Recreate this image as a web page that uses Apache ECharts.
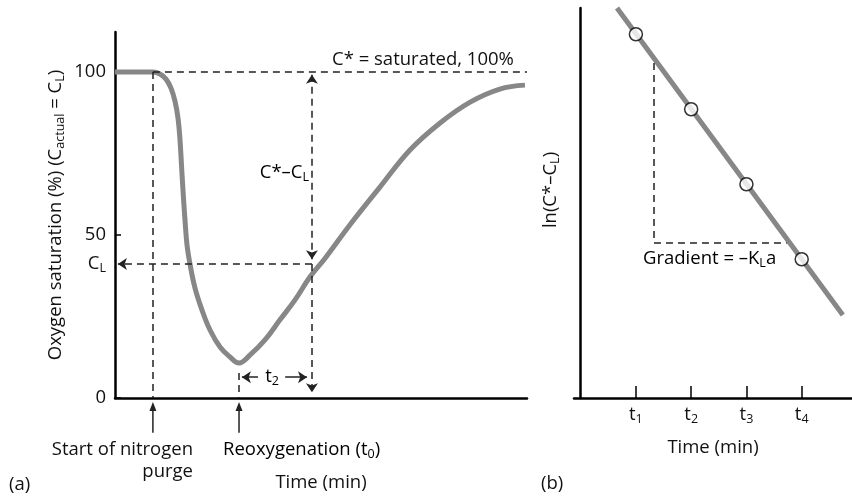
<!DOCTYPE html>
<html>
<head>
<meta charset="utf-8">
<script src="https://cdn.jsdelivr.net/npm/echarts@6/dist/echarts.min.js"></script>
<style>
html,body{margin:0;padding:0;background:#fff;}
#c{width:852px;height:496px;}
</style>
</head>
<body>
<div id="c"></div>
<script>
// ---------- Panel (a) data ----------
const satTime  = [0, 9.22, 10.92, 12.38, 13.59, 14.56, 15.29, 15.78, 16.14, 16.50, 16.99, 17.48, 18.20, 19.42, 21.12, 23.06, 25.49, 27.91, 30.10, 32.8, 36.4, 40.0, 43.7, 47.3, 51.0, 57.0, 64.3, 71.6, 78.9, 86.2, 93.4, 99.5];
const satValue = [100, 100, 99.39, 97.85, 95.09, 91.10, 85.89, 79.14, 71.47, 63.80, 54.60, 46.93, 41.10, 33.74, 26.99, 20.86, 15.64, 12.58, 10.74, 13.2, 17.8, 23.9, 30.1, 37.1, 42.9, 53.1, 64.7, 76.1, 84.4, 90.8, 94.8, 96.0];
const purgeTime = 9.2;
const reoxTime = 30.1;
const measureTime = 47.8;
const saturatedLevel = 100;
const clLevel = 41.1;
const yTickValues = [0, 50, 100];
const yLabelValues = [0, clLevel, 50, 100];
const yLabelTexts = ['{v|0}', '{v|C}{s|L}', '{v|50}', '{v|100}'];

// ---------- Panel (b) data ----------
const bTimes = [1, 2, 3, 4];
const bLnValues = [4.85, 3.85, 2.85, 1.85];
const bTickLabels = ['{v|t}{s|1}', '{v|t}{s|2}', '{v|t}{s|3}', '{v|t}{s|4}'];
const fitX = [0.658, 4.744];
const fitY = [5.2, 1.107];
const triX = [1.327, 3.73];
const triY = [4.467, 2.067];

const FONT = '"Open Sans", "Noto Sans", sans-serif';
const FS = 18.5;
const SFS = 12.5;
const TXT = '#111';
const GRAY = '#878787';
const richBase = {
  v: {fontSize: FS, fontFamily: FONT, color: TXT, lineHeight: 22},
  s: {fontSize: SFS, fontFamily: FONT, color: TXT, lineHeight: 10, verticalAlign: 'bottom'}
};

const dashStyle = {type: [7, 5], color: '#222', width: 1.5};
const solidStyle = {type: 'solid', color: '#222', width: 1.5};
function seg(p0, p1, arrowStart, arrowEnd, style) {
  return [
    {coord: p0, symbol: arrowStart ? 'arrow' : 'none', symbolSize: 9, lineStyle: style || dashStyle},
    {coord: p1, symbol: arrowEnd ? 'arrow' : 'none', symbolSize: 9}
  ];
}

// arrows below the time axis (point up to the axis)
const eventArrows = [[purgeTime, -10.7, -1.2], [reoxTime, -10.7, -1.2]];

const chart = echarts.init(document.getElementById('c'), null, {renderer: 'canvas'});
const option = {
  backgroundColor: '#fff',
  animation: false,
  textStyle: {fontFamily: FONT},
  grid: [
    {left: 115, top: 32, width: 412, height: 366, outerBoundsMode: 'none', containLabel: false},
    {left: 574, top: 8, width: 278, height: 390, outerBoundsMode: 'none', containLabel: false}
  ],
  xAxis: [
    {
      type: 'value', gridIndex: 0, min: 0, max: 100,
      axisLine: {lineStyle: {color: '#000', width: 2.5}},
      axisTick: {show: false}, axisLabel: {show: false}, splitLine: {show: false},
      name: 'Time (min)', nameLocation: 'middle', nameGap: 75,
      nameTextStyle: {fontSize: FS, fontFamily: FONT, color: TXT}
    },
    {
      type: 'value', gridIndex: 1, min: -0.12, max: 4.91,
      axisLine: {lineStyle: {color: '#000', width: 2.5}},
      axisTick: {show: true, inside: true, length: 12, customValues: bTimes, lineStyle: {color: '#000', width: 1.5}},
      axisLabel: {
        show: true, customValues: bTimes, margin: 6,
        fontSize: FS, fontFamily: FONT, color: TXT,
        formatter: function (v) { return bTickLabels[bTimes.indexOf(v)] || ''; },
        rich: richBase
      },
      splitLine: {show: false},
      name: 'Time (min)', nameLocation: 'middle', nameGap: 40,
      nameTextStyle: {fontSize: FS, fontFamily: FONT, color: TXT}
    }
  ],
  yAxis: [
    {
      type: 'value', gridIndex: 0, min: 0, max: 112.3,
      axisLine: {show: true, lineStyle: {color: '#000', width: 2.5}},
      axisTick: {show: true, inside: true, length: 6, customValues: yTickValues, lineStyle: {color: '#000', width: 1.5}},
      axisLabel: {
        show: true, customValues: yLabelValues, margin: 9,
        fontSize: FS, fontFamily: FONT, color: TXT,
        formatter: function (v) { return yLabelTexts[yLabelValues.indexOf(v)] || ''; },
        rich: richBase
      },
      splitLine: {show: false},
      name: '{v|Oxygen saturation (%) (C}{s|actual}{v| = C}{s|L}{v|)}',
      nameLocation: 'middle', nameGap: 48, nameRotate: 90,
      nameTextStyle: {rich: richBase}
    },
    {
      type: 'value', gridIndex: 1, min: 0, max: 5.2,
      axisLine: {show: true, lineStyle: {color: '#000', width: 2.5}},
      axisTick: {show: false}, axisLabel: {show: false}, splitLine: {show: false},
      name: '{v|ln(C*–C}{s|L}{v|)}',
      nameLocation: 'middle', nameGap: 12, nameRotate: 90,
      nameTextStyle: {rich: richBase, padding: [0, 0, 0, 26]}
    }
  ],
  series: [
    {
      type: 'line', xAxisIndex: 0, yAxisIndex: 0,
      data: satTime.map((t, i) => [t, satValue[i]]),
      smooth: 0.4, showSymbol: false, clip: false, silent: true,
      lineStyle: {color: GRAY, width: 5},
      markLine: {
        silent: true, animation: false, symbol: ['none', 'none'],
        label: {show: false},
        emphasis: {disabled: true},
        data: [
          seg([purgeTime, saturatedLevel], [100, saturatedLevel], false, false),
          seg([purgeTime, saturatedLevel], [purgeTime, 0], false, false),
          seg([measureTime, 99.2], [measureTime, 42.6], true, true),
          seg([measureTime, clLevel], [measureTime, 1.8], false, true),
          seg([measureTime, clLevel], [0.7, clLevel], false, true),
          seg([reoxTime, 7.7], [reoxTime, 0], false, false),
          seg([34.7, 6.4], [30.8, 6.4], false, true, solidStyle),
          seg([41.3, 6.4], [46.6, 6.4], false, true, solidStyle)
        ]
      }
    },
    {
      type: 'custom', xAxisIndex: 0, yAxisIndex: 0, silent: true, clip: false,
      data: eventArrows,
      renderItem: function (params, api) {
        const x = api.value(0);
        const p0 = api.coord([x, api.value(1)]);
        const p1 = api.coord([x, api.value(2)]);
        const w = 3.5, h = 9;
        return {
          type: 'group',
          children: [
            {type: 'line', shape: {x1: p0[0], y1: p0[1], x2: p1[0], y2: p1[1] + h - 1}, style: {stroke: '#222', lineWidth: 1.5}},
            {type: 'polygon', shape: {points: [[p1[0], p1[1]], [p1[0] - w, p1[1] + h], [p1[0] + w, p1[1] + h]]}, style: {fill: '#222'}}
          ]
        };
      }
    },
    {
      type: 'line', xAxisIndex: 1, yAxisIndex: 1,
      data: fitX.map((x, i) => [x, fitY[i]]),
      showSymbol: false, clip: false, silent: true, z: 2,
      lineStyle: {color: GRAY, width: 5},
      markLine: {
        silent: true, animation: false, symbol: ['none', 'none'],
        label: {show: false},
        emphasis: {disabled: true},
        data: [
          seg([triX[0], triY[0]], [triX[0], triY[1]], false, false),
          seg([triX[0], triY[1]], [triX[1], triY[1]], false, false)
        ]
      }
    },
    {
      type: 'scatter', xAxisIndex: 1, yAxisIndex: 1, z: 5, silent: true,
      data: bTimes.map((t, i) => [t, bLnValues[i]]),
      symbol: 'circle', symbolSize: 13,
      itemStyle: {color: '#fff', borderColor: '#000', borderWidth: 1.5}
    }
  ],
  graphic: [
    {type: 'text', x: 332, y: 60, style: {text: 'C* = saturated, 100%', font: FS + 'px ' + FONT, fill: TXT, align: 'left', verticalAlign: 'middle'}},
    {type: 'text', x: 309, y: 173, style: {text: '{v|C*–C}{s|L}', rich: richBase, align: 'right', verticalAlign: 'middle'}},
    {type: 'text', x: 272, y: 377, style: {text: '{v|t}{s|2}', rich: richBase, align: 'center', verticalAlign: 'middle'}},
    {type: 'text', x: 193, y: 450, style: {text: 'Start of nitrogen', font: FS + 'px ' + FONT, fill: TXT, align: 'right', verticalAlign: 'middle'}},
    {type: 'text', x: 193, y: 472, style: {text: 'purge', font: FS + 'px ' + FONT, fill: TXT, align: 'right', verticalAlign: 'middle'}},
    {type: 'text', x: 223, y: 450, style: {text: '{v|Reoxygenation (t}{s|0}{v|)}', rich: richBase, align: 'left', verticalAlign: 'middle'}},
    {type: 'text', x: 9, y: 485, style: {text: '(a)', font: FS + 'px ' + FONT, fill: TXT, align: 'left', verticalAlign: 'middle'}},
    {type: 'text', x: 541, y: 484, style: {text: '(b)', font: FS + 'px ' + FONT, fill: TXT, align: 'left', verticalAlign: 'middle'}},
    {type: 'text', x: 643, y: 259, style: {text: '{v|Gradient = –K}{s|L}{v|a}', rich: richBase, align: 'left', verticalAlign: 'middle'}}
  ]
};
chart.setOption(option);
</script>
</body>
</html>
